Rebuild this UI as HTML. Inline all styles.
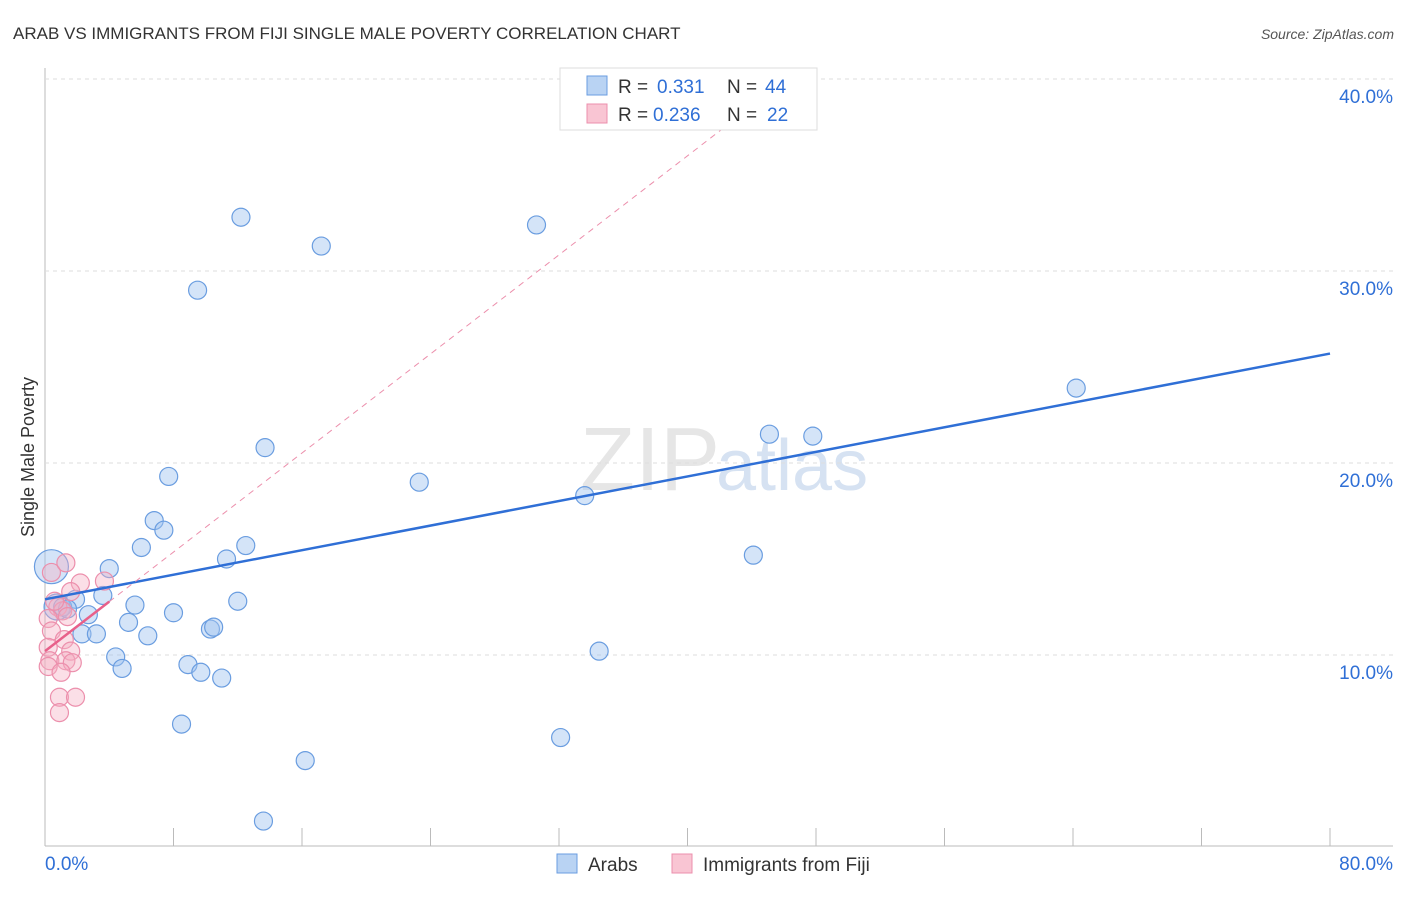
<!DOCTYPE html>
<html><head><meta charset="utf-8"><style>
body{margin:0;background:#fff;font-family:"Liberation Sans",sans-serif;}
svg text{font-family:"Liberation Sans",sans-serif;}
</style></head><body>
<svg id="c" width="1406" height="892">
<text x="13" y="39" font-size="17" fill="#333">ARAB VS IMMIGRANTS FROM FIJI SINGLE MALE POVERTY CORRELATION CHART</text>
<text x="1394" y="39" font-size="14" fill="#555" font-style="italic" text-anchor="end">Source: ZipAtlas.com</text>
<text x="720" y="490" font-size="90" fill="#e6e6e6" text-anchor="end" font-family="Liberation Serif">ZIP</text>
<text x="716" y="490" font-size="72" fill="#d6e2f2">atlas</text>
<text transform="translate(34,457) rotate(-90)" font-size="18" fill="#333" text-anchor="middle">Single Male Poverty</text>
<g id="grid"></g><g id="pts"></g><g id="lines"></g>
<g>
<rect x="560" y="68" width="257" height="62" fill="#fff" stroke="#ddd"/>
<rect x="587" y="76" width="20" height="19" fill="#b9d3f3" stroke="#6a9de0"/>
<rect x="587" y="104" width="20" height="19" fill="#f9c5d3" stroke="#ec8fac"/>
<text x="618" y="93" font-size="19" fill="#333">R = </text><text x="657" y="93" font-size="19" fill="#2f6fd6">0.331</text>
<text x="727" y="93" font-size="19" fill="#333">N = </text><text x="765" y="93" font-size="19" fill="#2f6fd6">44</text>
<text x="618" y="121" font-size="19" fill="#333">R = </text><text x="653" y="121" font-size="19" fill="#2f6fd6">0.236</text>
<text x="727" y="121" font-size="19" fill="#333">N = </text><text x="767" y="121" font-size="19" fill="#2f6fd6">22</text>
</g>
<g>
<rect x="557" y="854" width="20" height="19" fill="#b9d3f3" stroke="#6a9de0"/>
<text x="588" y="871" font-size="19" fill="#333">Arabs</text>
<rect x="672" y="854" width="20" height="19" fill="#f9c5d3" stroke="#ec8fac"/>
<text x="703" y="871" font-size="19" fill="#333">Immigrants from Fiji</text>
</g>
</svg>
<script>
const xTicks=[0,8,16,24,32,40,48,56,64,72,80];
const yTicks=[10,20,30,40];
const arabX=[12.2,17.2,30.6,9.5,13.7,23.3,7.7,33.6,6.8,7.4,6.0,12.5,11.3,4.0,3.6,1.9,5.6,12.0,2.7,8.0,5.2,10.3,10.5,2.3,3.2,6.4,4.4,4.8,8.9,9.7,11.0,8.5,16.2,13.6,32.1,34.5,44.1,45.1,47.8,64.2,0.4,0.75,1.1,1.4];
const arabY=[32.8,31.3,32.4,29.0,20.8,19.0,19.3,18.3,17.0,16.5,15.6,15.7,15.0,14.5,13.1,12.9,12.6,12.8,12.1,12.2,11.7,11.35,11.45,11.1,11.1,11.0,9.9,9.3,9.5,9.1,8.8,6.4,4.5,1.35,5.7,10.2,15.2,21.5,21.4,23.9,14.6,12.5,12.5,12.4];
const fijiX=[0.4,1.3,2.2,3.7,1.6,0.8,1.1,1.4,0.2,0.4,1.2,0.2,1.6,0.3,1.3,1.7,0.2,1.0,0.9,1.9,0.9,0.6];
const fijiY=[14.3,14.8,13.75,13.85,13.3,12.5,12.3,12.0,11.9,11.25,10.8,10.4,10.2,9.7,9.7,9.6,9.4,9.1,7.8,7.8,7.0,12.8];
const arabTrend=[12.9,25.7];
const fijiTrend=[10.2,0.645];
const sx=v=>45+v/80*1285, sy=v=>847-v*19.2;
const NS="http://www.w3.org/2000/svg";
function mk(t,a,p){const e=document.createElementNS(NS,t);for(const k in a)e.setAttribute(k,a[k]);p.appendChild(e);return e;}
const g=document.getElementById('grid');
mk('line',{x1:45,y1:68,x2:45,y2:846,stroke:'#bbb'},g);
mk('line',{x1:45,y1:846,x2:1393,y2:846,stroke:'#bbb'},g);
yTicks.forEach(v=>{
const l=mk('line',{x1:45,y1:sy(v),x2:1393,y2:sy(v),stroke:'#ddd','stroke-dasharray':'4,4'},g);


const t=mk('text',{x:1393,y:sy(v)+24,'font-size':19,fill:'#2f6fd6','text-anchor':'end'},g);t.textContent=v.toFixed(1)+'%';

});
xTicks.forEach(v=>{
const l=mk('line',{x1:sx(v),y1:828,x2:sx(v),y2:846,stroke:'#bbb'},g);

});
[[0,'start',45],[80,'end',1393]].forEach(([v,a,x])=>{const t=mk('text',{x:x,y:870,'font-size':19,fill:'#2f6fd6','text-anchor':a},g);t.textContent=v.toFixed(1)+'%';

});
const p=document.getElementById('pts');
arabX.forEach((x,i)=>{const r=i==40?17:(i==41?13:9);
const c=mk('circle',{cx:sx(x),cy:sy(arabY[i]),r:r,fill:'rgba(160,196,240,0.45)',stroke:'#6a9de0','stroke-width':1.2},p);

});
fijiX.forEach((x,i)=>{
const c=mk('circle',{cx:sx(x),cy:sy(fijiY[i]),r:9,fill:'rgba(246,176,196,0.4)',stroke:'#ec8fac','stroke-width':1.2},p);

});
const L=document.getElementById('lines');
const b=mk('line',{x1:sx(0),y1:sy(arabTrend[0]),x2:sx(80),y2:sy(arabTrend[1]),stroke:'#2f6fd6','stroke-width':2.5},L);


const xe=(40-fijiTrend[0])/fijiTrend[1];
const d=mk('line',{x1:sx(4),y1:sy(fijiTrend[0]+4*fijiTrend[1]),x2:sx(xe),y2:sy(40),stroke:'#ec8fac','stroke-width':1,'stroke-dasharray':'6,5'},L);


const s=mk('line',{x1:sx(0),y1:sy(fijiTrend[0]),x2:sx(4),y2:sy(fijiTrend[0]+4*fijiTrend[1]),stroke:'#e8608a','stroke-width':2.5},L);


</script>
</body></html>
